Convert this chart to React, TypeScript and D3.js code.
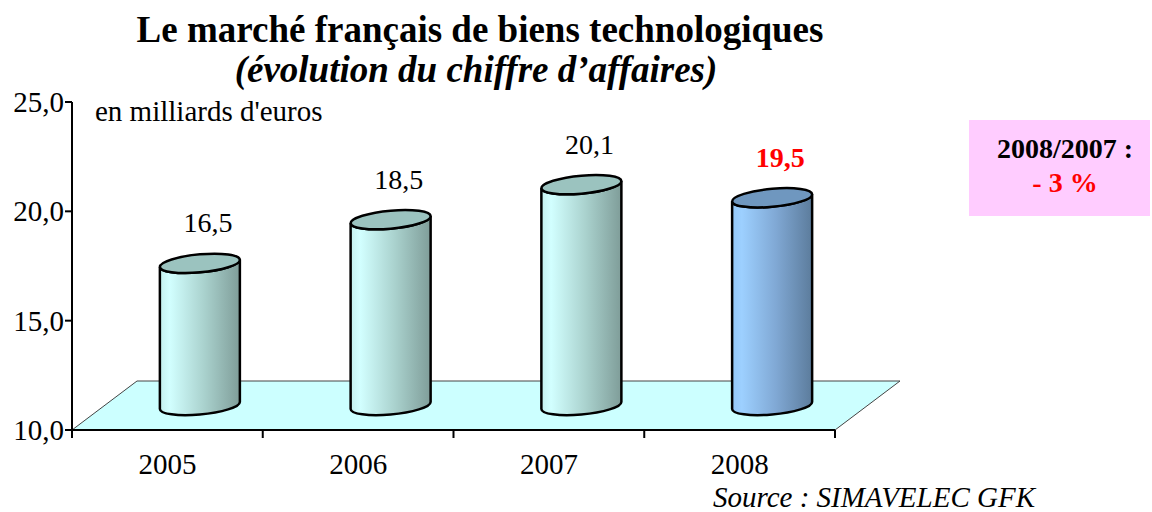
import * as d3 from 'd3';

// données
const years = ['2005', '2006', '2007', '2008'];
const values = [16.5, 18.5, 20.1, 19.5];
const yTicks = [10, 15, 20, 25];

const W = 1152;
const H = 512;
const serif = '"Liberation Serif", "Times New Roman", serif';

const fmt = (v: number) => d3.format('.1f')(v).replace('.', ',');

const App = () => {
  const x0 = 72;
  const x1 = 835;
  const y = d3.scaleLinear().domain([10, 25]).range([430, 102]);
  const x = d3.scaleBand().domain(years).range([x0, x1]);

  // profondeur du plancher
  const depthX = 65;
  const depthY = -49;
  const rx = 40;
  const ry = 9;

  const floor = d3.line()([
    [x0, y(10)],
    [x1, y(10)],
    [x1 + depthX, y(10) + depthY],
    [x0 + depthX, y(10) + depthY],
  ]) + 'Z';

  const bounds = [x0, ...years.map(d => (x(d) as number) + x.bandwidth())];

  return (
    <svg width={W} height={H} style={{ position: 'absolute', left: 0, top: 0, background: '#fff' }}>
      <defs>
        <linearGradient id="gCyan" x1="0" x2="1" y1="0" y2="0">
          <stop offset="0" stopColor="#c4f0ee" />
          <stop offset="0.12" stopColor="#d2ffff" />
          <stop offset="0.55" stopColor="#aad2ce" />
          <stop offset="1" stopColor="#7f9d99" />
        </linearGradient>
        <linearGradient id="gBlue" x1="0" x2="1" y1="0" y2="0">
          <stop offset="0" stopColor="#94c8f8" />
          <stop offset="0.12" stopColor="#9dd0ff" />
          <stop offset="0.55" stopColor="#80a8d4" />
          <stop offset="1" stopColor="#5c7c9c" />
        </linearGradient>
      </defs>

      {/* titre */}
      <text x={480} y={42} textAnchor="middle" fontFamily={serif} fontSize={37} fontWeight="bold">
        Le marché français de biens technologiques
      </text>
      <text x={476} y={82} textAnchor="middle" fontFamily={serif} fontSize={37} fontWeight="bold" fontStyle="italic">
        (évolution du chiffre d’affaires)
      </text>

      {/* plancher */}
      <path d={floor} fill="#ccffff" stroke="#444" strokeWidth={1} />

      {/* axe Y */}
      <line x1={x0} x2={x0} y1={y(25)} y2={y(10)} stroke="#000" strokeWidth={2} />
      {yTicks.map(t => (
        <g key={t}>
          <line x1={x0 - 7} x2={x0} y1={y(t)} y2={y(t)} stroke="#000" strokeWidth={2} />
          <text x={x0 - 8} y={y(t)} dy="0.35em" textAnchor="end" fontFamily={serif} fontSize={29}>
            {fmt(t)}
          </text>
        </g>
      ))}

      {/* axe X */}
      <line x1={x0} x2={x1} y1={y(10)} y2={y(10)} stroke="#000" strokeWidth={2} />
      {bounds.map((b, i) => (
        <line key={i} x1={b} x2={b} y1={y(10)} y2={y(10) + 8} stroke="#000" strokeWidth={2} />
      ))}
      {years.map(d => (
        <text key={d} x={(x(d) as number) + x.bandwidth() / 2} y={474} textAnchor="middle" fontFamily={serif} fontSize={29}>
          {d}
        </text>
      ))}

      <text x={95} y={121} fontFamily={serif} fontSize={29}>en milliards d'euros</text>

      {/* cylindres */}
      {years.map((d, i) => {
        const cx = (x(d) as number) + x.bandwidth() / 2 + depthX / 2;
        const base = y(10) + depthY / 2;
        const top = y(values[i]) + depthY / 2;
        const h = base - top;
        const last = i === years.length - 1;
        const side = `M${-rx},0 L${-rx},${h} A${rx},${ry} 0 0 0 ${rx},${h} L${rx},0 A${rx},${ry} 0 0 1 ${-rx},0 Z`;
        return (
          <g key={d}>
            <g transform={`translate(${cx},${top}) skewY(-5)`}>
              <path d={side} fill={last ? 'url(#gBlue)' : 'url(#gCyan)'} stroke="#000" strokeWidth={2.5} />
              <ellipse cx={0} cy={0} rx={rx} ry={ry} fill={last ? '#6f97bf' : '#9bc3bf'} stroke="#000" strokeWidth={2.5} />
            </g>
            <text
              x={cx + 8}
              y={top - 31}
              textAnchor="middle"
              fontFamily={serif}
              fontSize={28}
              fontWeight={last ? 'bold' : 'normal'}
              fill={last ? '#ff0000' : '#000'}
            >
              {fmt(values[i])}
            </text>
          </g>
        );
      })}

      {/* encadré */}
      <rect x={969} y={120} width={181} height={96} fill="#ffccff" />
      <text x={1065} y={158} textAnchor="middle" fontFamily={serif} fontSize={28} fontWeight="bold">
        2008/2007 :
      </text>
      <text x={1065} y={192} textAnchor="middle" fontFamily={serif} fontSize={28} fontWeight="bold" fill="#ff0000">
        - 3 %
      </text>

      <text x={1035} y={507} textAnchor="end" fontFamily={serif} fontSize={29} fontStyle="italic">
        Source : SIMAVELEC GFK
      </text>
    </svg>
  );
};

export default App;
